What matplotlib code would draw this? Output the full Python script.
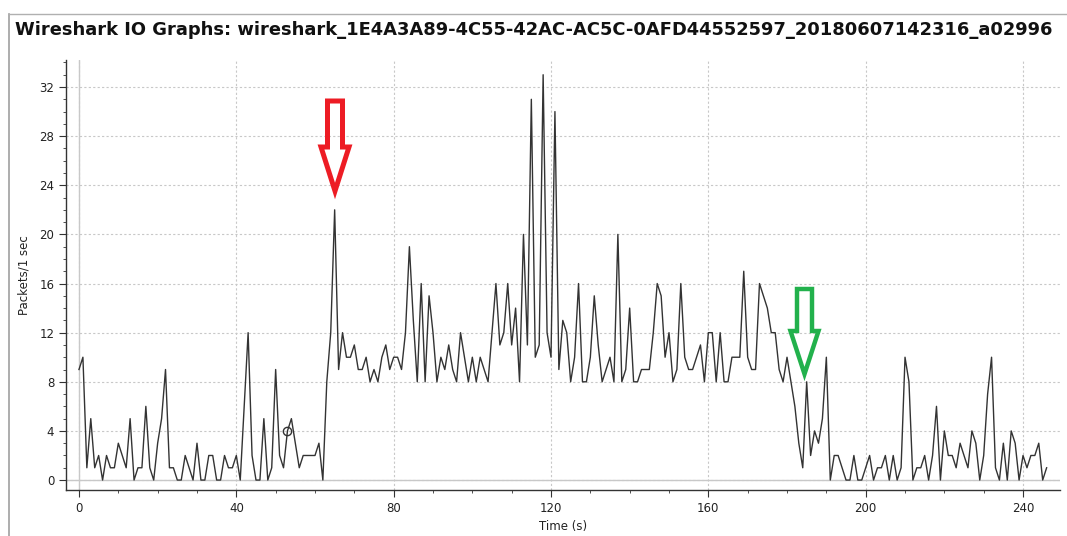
import matplotlib
matplotlib.use("Agg")
import matplotlib.pyplot as plt
from matplotlib.patches import Polygon
from matplotlib.lines import Line2D
import numpy as np

title = "Wireshark IO Graphs: wireshark_1E4A3A89-4C55-42AC-AC5C-0AFD44552597_20180607142316_a02996"
x_label = "Time (s)"
y_label = "Packets/1 sec"

packets = [
    9, 10, 1, 5, 1, 2, 0, 2, 1, 1,
    3, 2, 1, 5, 0, 1, 1, 6, 1, 0,
    3, 5, 9, 1, 1, 0, 0, 2, 1, 0,
    3, 0, 0, 2, 2, 0, 0, 2, 1, 1,
    2, 0, 6, 12, 2, 0, 0, 5, 0, 1,
    9, 2, 1, 4, 5, 3, 1, 2, 2, 2,
    2, 3, 0, 8, 12, 22, 9, 12, 10, 10,
    11, 9, 9, 10, 8, 9, 8, 10, 11, 9,
    10, 10, 9, 12, 19, 13, 8, 16, 8, 15,
    12, 8, 10, 9, 11, 9, 8, 12, 10, 8,
    10, 8, 10, 9, 8, 12, 16, 11, 12, 16,
    11, 14, 8, 20, 11, 31, 10, 11, 33, 12,
    10, 30, 9, 13, 12, 8, 10, 16, 8, 8,
    10, 15, 11, 8, 9, 10, 8, 20, 8, 9,
    14, 8, 8, 9, 9, 9, 12, 16, 15, 10,
    12, 8, 9, 16, 10, 9, 9, 10, 11, 8,
    12, 12, 8, 12, 8, 8, 10, 10, 10, 17,
    10, 9, 9, 16, 15, 14, 12, 12, 9, 8,
    10, 8, 6, 3, 1, 8, 2, 4, 3, 5,
    10, 0, 2, 2, 1, 0, 0, 2, 0, 0,
    1, 2, 0, 1, 1, 2, 0, 2, 0, 1,
    10, 8, 0, 1, 1, 2, 0, 2, 6, 0,
    4, 2, 2, 1, 3, 2, 1, 4, 3, 0,
    2, 7, 10, 1, 0, 3, 0, 4, 3, 0,
    2, 1, 2, 2, 3, 0, 1,
]
times = list(range(len(packets)))
selected_time = 53
x_ticks = [0, 40, 80, 120, 160, 200, 240]
y_ticks = [0, 4, 8, 12, 16, 20, 24, 28, 32]

W, H = 1067, 536
fig = plt.figure(figsize=(W / 100, H / 100), dpi=100)
fig.patch.set_facecolor("white")

def px(x, y):
    return (x / W, 1 - y / H)

# window frame lines
fig.add_artist(Line2D([px(9, 0)[0], px(9, 0)[0]], [0, px(0, 14)[1]], color="#a0a0a0", lw=1.2))
fig.add_artist(Line2D([px(9, 0)[0], 1], [px(0, 14)[1], px(0, 14)[1]], color="#b0b0b0", lw=1.0))

fig.text(px(15, 30)[0], px(15, 30)[1], title, fontsize=12.85, fontweight="bold",
         ha="left", va="center", color="#111111")

left, right, top, bottom = 66, 1060, 60, 490
ax = fig.add_axes([left / W, 1 - bottom / H, (right - left) / W, (bottom - top) / H])
ax.set_facecolor("white")

ax.set_xlim(-3.3, 249.4)
ax.set_ylim(-0.81, 34.2)
ax.set_xticks(x_ticks)
ax.set_yticks(y_ticks)
ax.set_xticks(np.arange(0, 250, 10), minor=True)
ax.set_yticks(np.arange(0, 35, 1), minor=True)
ax.grid(which="major", color="#c8c8c8", linestyle=(0, (2, 2)), linewidth=0.8)
ax.axhline(0, color="#c8c8c8", lw=1.0, zorder=1)
ax.axvline(0, color="#c8c8c8", lw=1.0, zorder=1)

for s in ["top", "right"]:
    ax.spines[s].set_visible(False)
for s in ["left", "bottom"]:
    ax.spines[s].set_color("#333333")
    ax.spines[s].set_linewidth(1.0)
ax.tick_params(which="major", direction="out", length=5, color="#333333", labelsize=8.5,
               labelcolor="#222222")
ax.tick_params(which="minor", direction="out", length=2.5, color="#333333")

ax.plot(times, packets, color="#333333", lw=1.0, zorder=3)
ax.plot([selected_time], [packets[selected_time]], marker="o", ms=6, mfc="none",
        mec="#333333", mew=1.0, zorder=4)

ax.set_xlabel(x_label, fontsize=8.5, color="#222222", labelpad=4)
ax.set_ylabel(y_label, fontsize=8.5, color="#222222", labelpad=6)

# arrows
def arrow(cx, top_y, head_y, tip_y, shaft_half, head_half, color, lw):
    pts = [(cx - shaft_half, top_y), (cx + shaft_half, top_y), (cx + shaft_half, head_y),
           (cx + head_half, head_y), (cx, tip_y), (cx - head_half, head_y),
           (cx - shaft_half, head_y)]
    poly = Polygon([px(*p) for p in pts], closed=True, fill=False, edgecolor=color,
                   linewidth=lw, transform=fig.transFigure, joinstyle="miter")
    fig.add_artist(poly)

arrow(335, 101, 147, 191, 7.5, 14, "#ed1c24", 3.6)
arrow(804.5, 289, 331, 374, 7.5, 14, "#22b14c", 3.2)

fig.savefig("out.png", dpi=100)
